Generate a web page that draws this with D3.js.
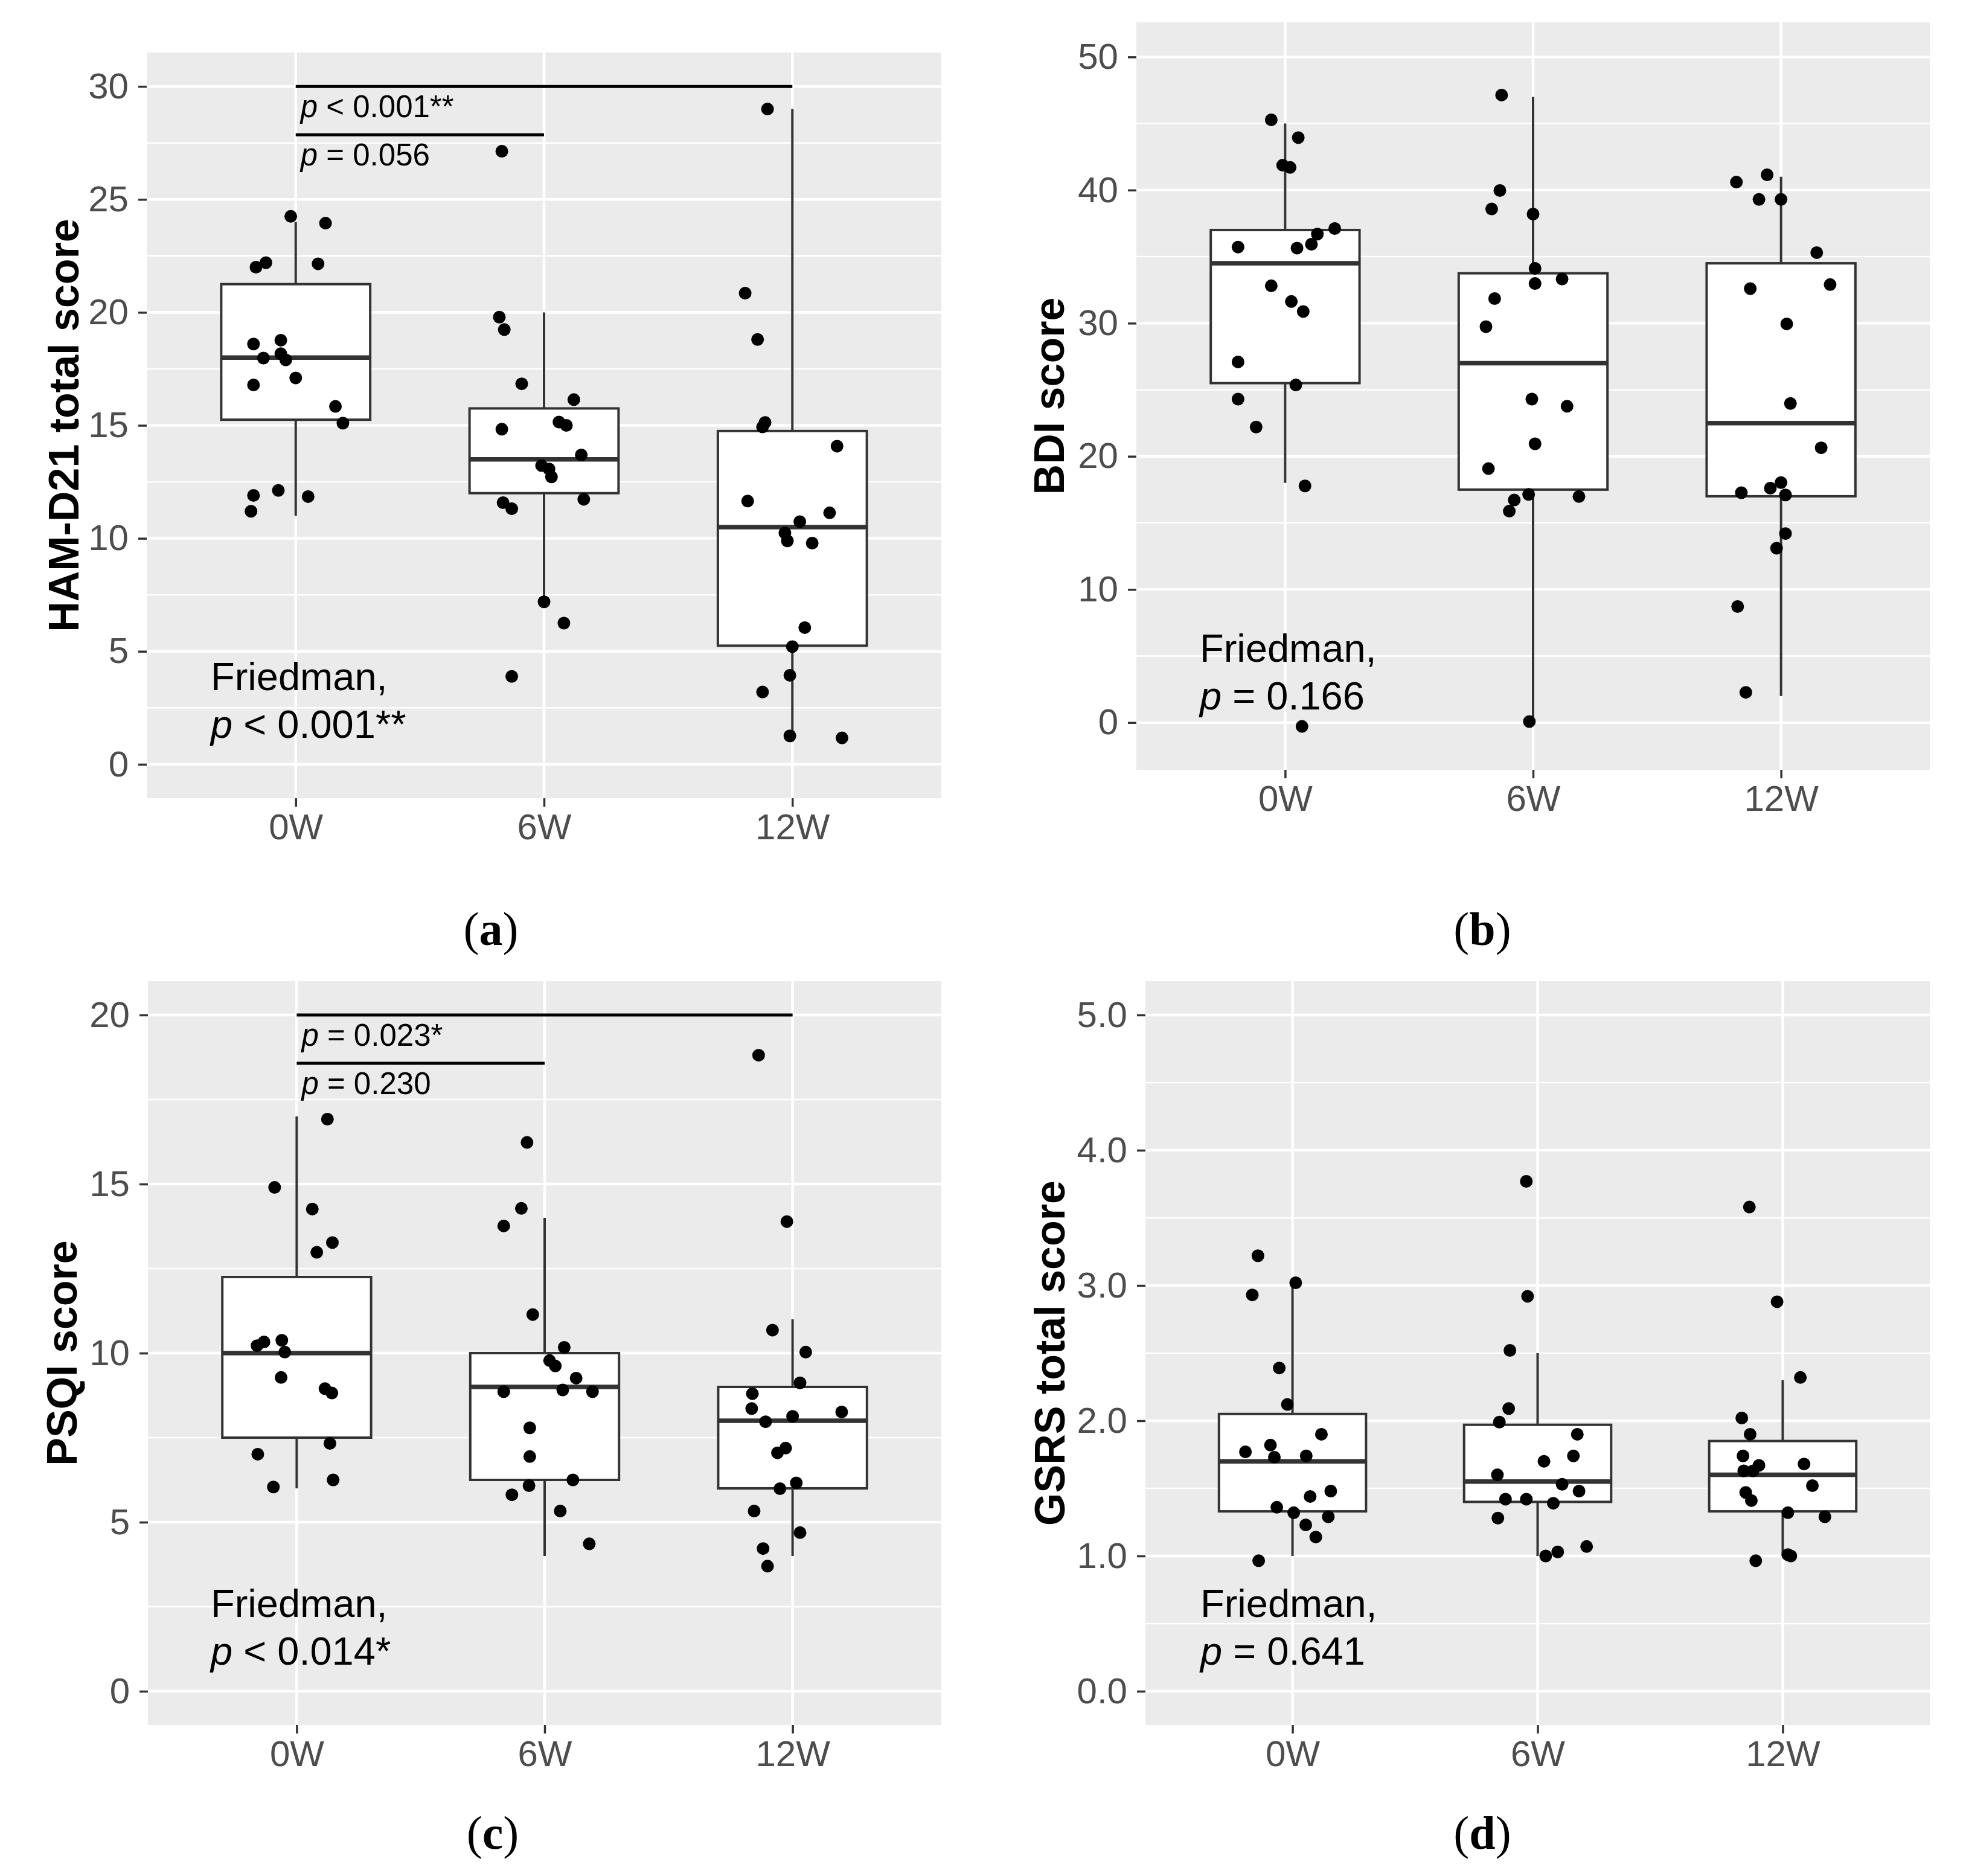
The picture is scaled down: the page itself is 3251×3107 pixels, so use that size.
<!DOCTYPE html>
<html>
<head>
<meta charset="utf-8">
<script src="https://cdn.jsdelivr.net/npm/d3@7"></script>
<style>
  body { margin: 0; background: #fff; }
  text { font-family: "Liberation Sans", Arial, sans-serif; }
  text.sublabel { font-family: "Liberation Serif", "Times New Roman", serif; }
</style>
</head>
<body>
<div id="chart"></div>
<script>
// ---------- DATA ----------
const weeks = ["0W", "6W", "12W"];

// box stats per week: [lower whisker, q1, median, q3, upper whisker]
const hamdBox = [[11, 15.25, 18, 21.25, 24], [7, 12, 13.5, 15.75, 20], [1, 5.25, 10.5, 14.75, 29]];
const bdiBox = [[18, 25.5, 34.5, 37, 45], [0, 17.5, 27, 33.75, 47], [2, 17, 22.5, 34.5, 41]];
const psqiBox = [[6, 7.5, 10, 12.25, 17], [4, 6.25, 9, 10, 14], [4, 6, 8, 9, 11]];
const gsrsBox = [[1.0, 1.33, 1.7, 2.05, 3.02], [1.0, 1.4, 1.55, 1.97, 2.5], [1.0, 1.33, 1.6, 1.85, 2.3]];

// jittered points per week: [horizontal jitter (category units), value]
const hamdPts = [
	[[-0.02, 24.25], [0.12, 23.95], [-0.16, 22.0], [-0.12, 22.2], [0.09, 22.15], [-0.17, 18.6], [-0.06, 18.77], [-0.13, 17.98], [-0.06, 18.17], [-0.04, 17.9], [0, 17.1], [-0.17, 16.79], [0.16, 15.84], [0.19, 15.1], [-0.17, 11.9], [-0.18, 11.2], [-0.07, 12.12], [0.05, 11.85]],
	[[-0.17, 27.13], [-0.18, 19.79], [-0.16, 19.24], [-0.09, 16.84], [0.12, 16.14], [-0.17, 14.83], [0.06, 15.15], [0.09, 15.0], [0.15, 13.69], [-0.01, 13.22], [0.02, 13.07], [0.03, 12.72], [-0.165, 11.58], [-0.13, 11.31], [0.16, 11.73], [0, 7.19], [0.08, 6.25], [-0.13, 3.89]],
	[[-0.1, 29.0], [-0.19, 20.85], [-0.14, 18.8], [-0.11, 15.13], [-0.12, 14.93], [0.18, 14.08], [-0.18, 11.65], [0.15, 11.13], [0.03, 10.74], [-0.03, 10.24], [-0.02, 9.89], [0.08, 9.79], [0.05, 6.05], [0, 5.21], [-0.01, 3.94], [-0.12, 3.2], [-0.01, 1.26], [0.2, 1.17]]
];
const bdiPts = [
	[[-0.056, 45.28], [0.053, 43.94], [-0.01, 41.87], [0.02, 41.7], [-0.19, 35.72], [0.048, 35.64], [0.106, 35.93], [0.13, 36.69], [0.2, 37.11], [-0.056, 32.81], [0.025, 31.63], [0.073, 30.88], [-0.19, 27.09], [0.043, 25.36], [-0.19, 24.3], [-0.117, 22.2], [0.08, 17.78], [0.068, -0.29]],
	[[-0.127, 47.14], [-0.134, 39.97], [-0.167, 38.58], [0, 38.2], [0.008, 34.12], [0.008, 32.98], [0.117, 33.32], [-0.155, 31.85], [-0.19, 29.74], [-0.005, 24.3], [0.137, 23.76], [0.008, 20.94], [-0.18, 19.08], [-0.076, 16.72], [-0.096, 15.88], [-0.018, 17.14], [0.185, 16.98], [-0.015, 0.08]],
	[[-0.18, 40.6], [-0.056, 41.15], [-0.089, 39.3], [0, 39.3], [0.144, 35.3], [-0.124, 32.6], [0.198, 32.9], [0.023, 29.95], [0.038, 23.97], [0.162, 20.64], [-0.16, 17.27], [-0.043, 17.61], [0, 18.03], [0.018, 17.1], [0.018, 14.2], [-0.018, 13.1], [-0.175, 8.72], [-0.142, 2.27]]
];
const psqiPts = [
	[[0.124, 16.92], [-0.089, 14.9], [0.063, 14.26], [0.144, 13.27], [0.081, 12.98], [-0.16, 10.22], [-0.132, 10.33], [-0.06, 10.38], [-0.048, 10.03], [-0.063, 9.28], [0.114, 8.95], [0.142, 8.82], [0.134, 7.33], [-0.157, 7.01], [0.147, 6.25], [-0.094, 6.04]],
	[[-0.071, 16.23], [-0.094, 14.28], [-0.165, 13.76], [-0.048, 11.14], [0.079, 10.17], [0.02, 9.78], [0.043, 9.62], [0.127, 9.26], [-0.165, 8.86], [0.073, 8.91], [0.193, 8.86], [-0.06, 7.79], [-0.06, 6.94], [0.114, 6.25], [-0.063, 6.08], [-0.132, 5.81], [0.063, 5.33], [0.18, 4.36]],
	[[-0.137, 18.81], [-0.023, 13.89], [-0.081, 10.68], [0.053, 10.03], [0.03, 9.12], [-0.162, 8.8], [-0.165, 8.36], [0.198, 8.26], [-0.109, 7.97], [0, 8.13], [-0.028, 7.19], [-0.061, 7.05], [-0.051, 5.99], [0.015, 6.16], [-0.155, 5.33], [0.03, 4.69], [-0.119, 4.22], [-0.101, 3.7]]
];
const gsrsPts = [
	[[-0.141, 3.22], [0.013, 3.02], [-0.164, 2.93], [-0.054, 2.39], [-0.021, 2.12], [0.118, 1.9], [-0.192, 1.77], [-0.09, 1.82], [-0.074, 1.73], [0.056, 1.74], [0.156, 1.48], [0.072, 1.44], [-0.064, 1.36], [0.005, 1.32], [0.146, 1.29], [0.054, 1.23], [0.095, 1.14], [-0.138, 0.965]],
	[[-0.046, 3.77], [-0.041, 2.92], [-0.113, 2.52], [-0.118, 2.09], [-0.156, 1.99], [0.162, 1.9], [0.146, 1.74], [0.026, 1.7], [-0.164, 1.6], [0.1, 1.53], [0.169, 1.48], [-0.131, 1.42], [-0.046, 1.42], [0.064, 1.39], [-0.162, 1.28], [0.2, 1.07], [0.082, 1.03], [0.033, 1.0]],
	[[-0.136, 3.58], [-0.023, 2.88], [0.072, 2.32], [-0.167, 2.02], [-0.133, 1.9], [-0.162, 1.74], [-0.097, 1.67], [0.087, 1.68], [-0.159, 1.63], [-0.121, 1.63], [0.121, 1.52], [-0.151, 1.47], [-0.128, 1.41], [0.021, 1.32], [0.172, 1.29], [0.021, 1.01], [0.033, 1.0], [-0.11, 0.965]]
];

// y-axis ticks and ranges
const hamdTicks = [0, 5, 10, 15, 20, 25, 30];
const bdiTicks = [0, 10, 20, 30, 40, 50];
const psqiTicks = [0, 5, 10, 15, 20];
const gsrsTicks = [0, 1, 2, 3, 4, 5];
const hamdRange = [-1.5, 31.5];
const bdiRange = [-3.55, 52.6];
const psqiRange = [-1, 21];
const gsrsRange = [-0.25, 5.25];

// pairwise comparisons: [from, to, bar level, p text, stars]
const hamdPairs = [["0W", "12W", 30, "< 0.001", "**"], ["0W", "6W", 27.86, "= 0.056", ""]];
const psqiPairs = [["0W", "12W", 20, "= 0.023", "*"], ["0W", "6W", 18.57, "= 0.230", ""]];

// Friedman test results
const friedman = ["< 0.001**", "= 0.166", "< 0.014*", "= 0.641"];

// ---------- LAYOUT ----------
const svg = d3.select("#chart")
	.append("svg")
	.attr("width", 3251)
	.attr("height", 3107);

svg.append("rect").attr("width", 3251).attr("height", 3107).attr("fill", "#fff");

const panels = [
	{ tag: "a", title: "HAM-D21 total score", box: hamdBox, pts: hamdPts, ticks: hamdTicks, range: hamdRange, pairs: hamdPairs, fried: friedman[0], fmt: d3.format("d"),
		left: 243, right: 1559, top: 87, bottom: 1322, titleX: 130, fx: 106, labelX: 813, labelY: 1565 },
	{ tag: "b", title: "BDI score", box: bdiBox, pts: bdiPts, ticks: bdiTicks, range: bdiRange, pairs: [], fried: friedman[1], fmt: d3.format("d"),
		left: 1882, right: 3196, top: 37, bottom: 1275, titleX: 1762, fx: 105, labelX: 2455, labelY: 1565 },
	{ tag: "c", title: "PSQI score", box: psqiBox, pts: psqiPts, ticks: psqiTicks, range: psqiRange, pairs: psqiPairs, fried: friedman[2], fmt: d3.format("d"),
		left: 245, right: 1559, top: 1625, bottom: 2857, titleX: 127, fx: 104, labelX: 816, labelY: 3062 },
	{ tag: "d", title: "GSRS total score", box: gsrsBox, pts: gsrsPts, ticks: gsrsTicks, range: gsrsRange, pairs: [], fried: friedman[3], fmt: d3.format(".1f"),
		left: 1897, right: 3196, top: 1625, bottom: 2857, titleX: 1763, fx: 91, labelX: 2455, labelY: 3062 }
];

panels.forEach(drawPanel);

function drawPanel(p) {
	const g = svg.append("g").classed("panel-" + p.tag, true);

	const x = d3.scalePoint().domain(weeks).range([p.left, p.right]).padding(0.6);
	const step = x.step();
	const y = d3.scaleLinear().domain(p.range).range([p.bottom, p.top]);

	// panel background
	g.append("rect")
		.attr("x", p.left)
		.attr("y", p.top)
		.attr("width", p.right - p.left)
		.attr("height", p.bottom - p.top)
		.attr("fill", "#EBEBEB");

	// minor grid: halfway between major ticks (and beyond, if inside range)
	const half = (p.ticks[1] - p.ticks[0]) / 2;
	const minor = d3.range(p.ticks[0] - half, p.ticks[p.ticks.length - 1] + 2 * half, 2 * half)
		.filter((v) => v > p.range[0] && v < p.range[1]);
	g.selectAll(".minor")
		.data(minor)
		.enter()
		.append("line")
		.attr("x1", p.left)
		.attr("x2", p.right)
		.attr("y1", (d) => y(d))
		.attr("y2", (d) => y(d))
		.attr("stroke", "#fff")
		.attr("stroke-width", 2.5);

	g.selectAll(".major")
		.data(p.ticks)
		.enter()
		.append("line")
		.attr("x1", p.left)
		.attr("x2", p.right)
		.attr("y1", (d) => y(d))
		.attr("y2", (d) => y(d))
		.attr("stroke", "#fff")
		.attr("stroke-width", 4.5);

	g.selectAll(".vgrid")
		.data(weeks)
		.enter()
		.append("line")
		.attr("x1", (d) => x(d))
		.attr("x2", (d) => x(d))
		.attr("y1", p.top)
		.attr("y2", p.bottom)
		.attr("stroke", "#fff")
		.attr("stroke-width", 4.5);

	// axes
	const yAxis = g.append("g")
		.attr("transform", `translate(${p.left},0)`)
		.call(d3.axisLeft(y).tickValues(p.ticks).tickFormat(p.fmt).tickSizeInner(14).tickSizeOuter(0).tickPadding(16));
	const xAxis = g.append("g")
		.attr("transform", `translate(0,${p.bottom})`)
		.call(d3.axisBottom(x).tickSizeInner(14).tickSizeOuter(0).tickPadding(11));
	[yAxis, xAxis].forEach((ax) => {
		ax.select(".domain").remove();
		ax.selectAll(".tick line").attr("stroke", "#333333").attr("stroke-width", 3.5);
		ax.selectAll(".tick text")
			.attr("fill", "#4D4D4D")
			.attr("font-size", 60);
	});

	// axis title
	g.append("text")
		.attr("transform", `translate(${p.titleX},${(p.top + p.bottom) / 2}) rotate(-90)`)
		.attr("text-anchor", "middle")
		.attr("font-size", 70)
		.attr("font-weight", "bold")
		.attr("fill", "#000")
		.text(p.title);

	// boxplots
	const boxW = step * 0.6;
	const boxes = g.selectAll(".box")
		.data(p.box)
		.enter()
		.append("g")
		.attr("transform", (d, i) => `translate(${x(weeks[i])},0)`);

	boxes.append("line")
		.attr("y1", (d) => y(d[0]))
		.attr("y2", (d) => y(d[4]))
		.attr("stroke", "#333333")
		.attr("stroke-width", 4);

	boxes.append("rect")
		.attr("x", -boxW / 2)
		.attr("width", boxW)
		.attr("y", (d) => y(d[3]))
		.attr("height", (d) => y(d[1]) - y(d[3]))
		.attr("fill", "#fff")
		.attr("stroke", "#333333")
		.attr("stroke-width", 4);

	boxes.append("line")
		.attr("x1", -boxW / 2)
		.attr("x2", boxW / 2)
		.attr("y1", (d) => y(d[2]))
		.attr("y2", (d) => y(d[2]))
		.attr("stroke", "#333333")
		.attr("stroke-width", 7.5);

	// jittered points
	p.pts.forEach((grp, i) => {
		g.selectAll(".pt-" + i)
			.data(grp)
			.enter()
			.append("circle")
			.attr("cx", (d) => x(weeks[i]) + d[0] * step)
			.attr("cy", (d) => y(d[1]))
			.attr("r", 10.5)
			.attr("fill", "#000");
	});

	// pairwise comparison bars
	p.pairs.forEach((pr) => {
		g.append("line")
			.attr("x1", x(pr[0]))
			.attr("x2", x(pr[1]))
			.attr("y1", y(pr[2]))
			.attr("y2", y(pr[2]))
			.attr("stroke", "#000")
			.attr("stroke-width", 5);
		const t = g.append("text")
			.attr("x", x(pr[0]) + 8)
			.attr("y", y(pr[2]) + 51)
			.attr("font-size", 51)
			.attr("fill", "#000");
		t.append("tspan").attr("font-style", "italic").text("p");
		t.append("tspan").text(" " + pr[3] + pr[4]);
	});

	// Friedman label
	const fr = g.append("text")
		.attr("x", p.left + p.fx)
		.attr("y", p.bottom - 179)
		.attr("font-size", 65)
		.attr("fill", "#000");
	fr.append("tspan").text("Friedman,");
	const l2 = g.append("text")
		.attr("x", p.left + p.fx)
		.attr("y", p.bottom - 100)
		.attr("font-size", 65)
		.attr("fill", "#000");
	l2.append("tspan").attr("font-style", "italic").text("p");
	l2.append("tspan").text(" " + p.fried);

	// subfigure label
	const lab = svg.append("text")
		.classed("sublabel", true)
		.attr("x", p.labelX)
		.attr("y", p.labelY)
		.attr("text-anchor", "middle")
		.attr("font-size", 78)
		.attr("fill", "#000");
	lab.append("tspan").text("(");
	lab.append("tspan").attr("font-weight", "bold").text(p.tag);
	lab.append("tspan").text(")");
}
</script>
</body>
</html>
